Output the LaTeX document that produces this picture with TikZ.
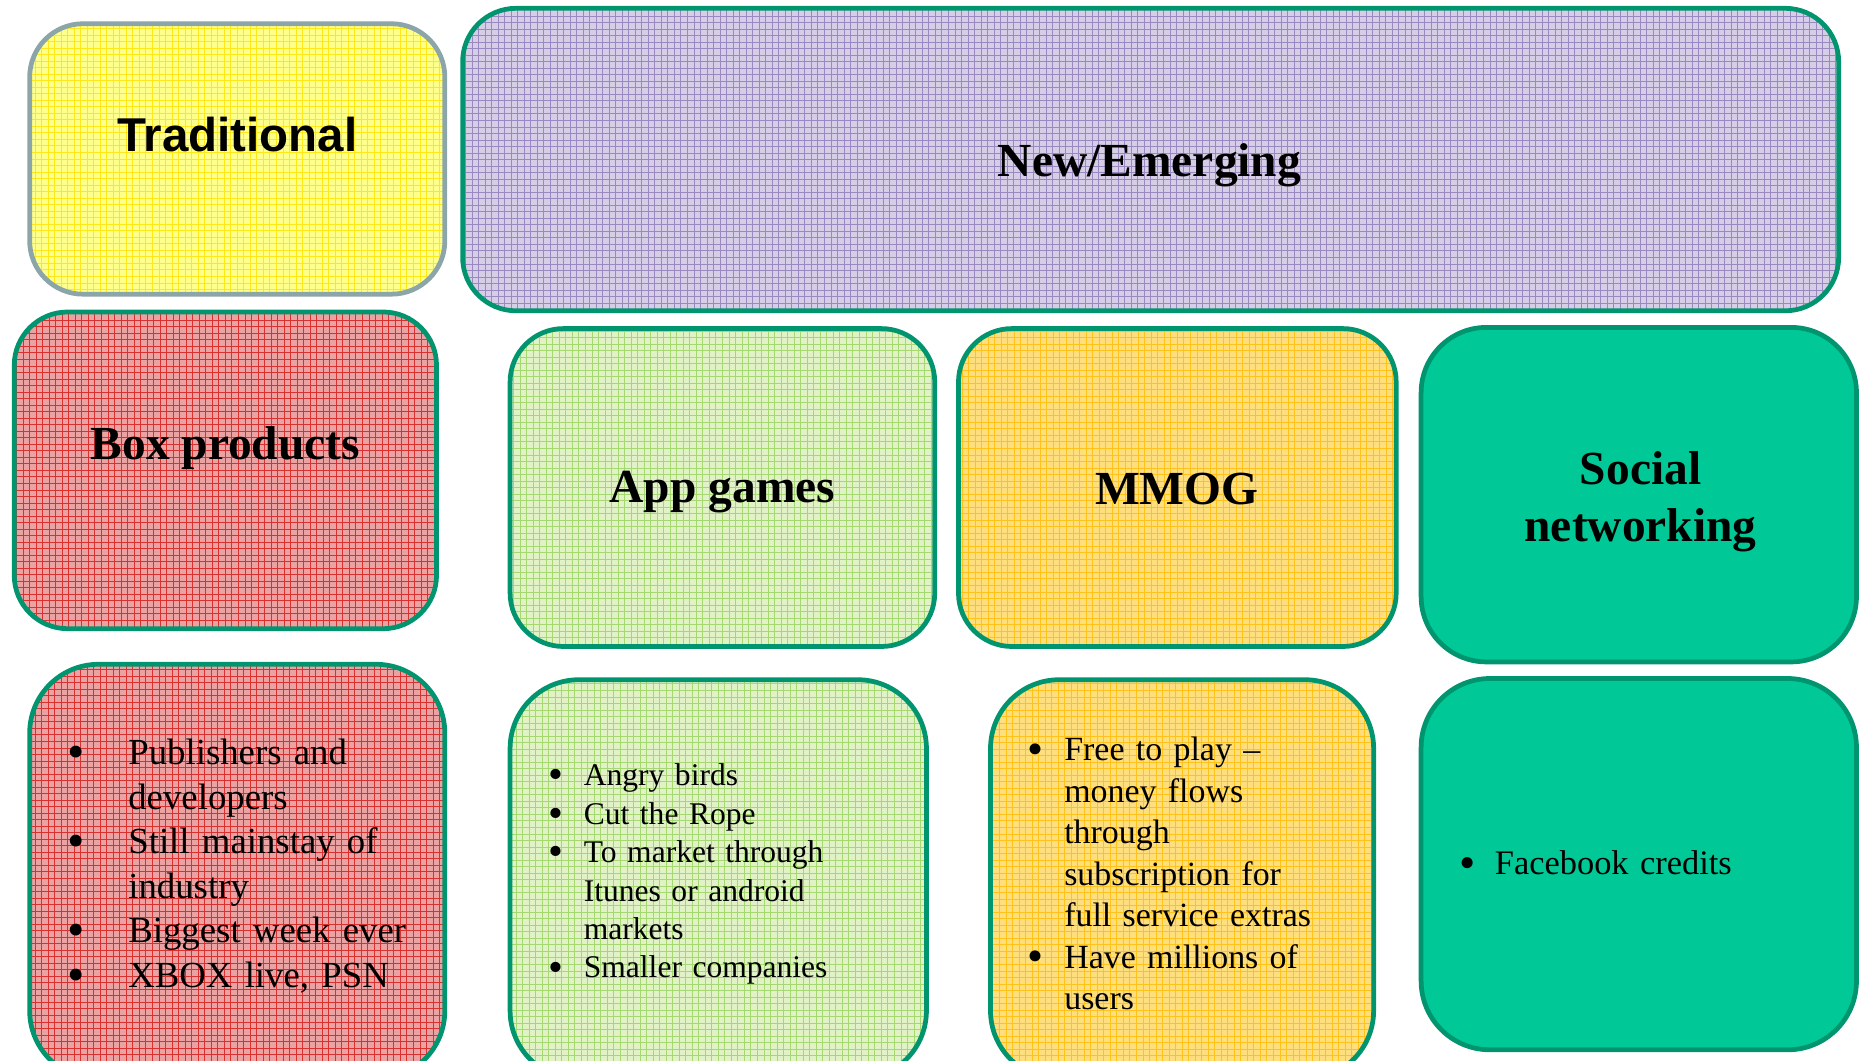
\documentclass[tikz,border=0pt]{standalone}
\usepackage{fontspec}
\setmainfont{Liberation Serif}
\newfontfamily\arialfont{Liberation Sans}

\definecolor{rimgreen}{HTML}{00956E}
\definecolor{rimgrey}{HTML}{8CA5A8}
\definecolor{socialgreen}{HTML}{00C896}
\definecolor{yellowbg}{HTML}{FFFF8C}
\definecolor{yellowln}{HTML}{FFE81A}
\definecolor{lilacbg}{HTML}{D6CEE6}
\definecolor{lilacln}{HTML}{9A88C0}
\definecolor{redbg}{HTML}{EBA2A2}
\definecolor{redln}{HTML}{D93030}
\definecolor{limebg}{HTML}{E0F2C6}
\definecolor{limeln}{HTML}{A6D872}
\definecolor{amberbg}{HTML}{FFDE7E}
\definecolor{amberln}{HTML}{FFC21A}

% bullet item with hanging indent
\newcommand{\bdot}{\raisebox{-0.1em}[0pt][0pt]{\scalebox{1.35}{\textbullet}}}
\newcommand{\bpt}[2][30pt]{\par\noindent\hangindent=#1\hangafter=1\makebox[#1][l]{\bdot}#2}

\tikzset{
  card/.style={draw=rimgreen, line width=4pt, rounded corners=45pt, inner sep=0pt},
  gridfill/.style 2 args={fill=#1, path picture={
      \draw[#2, line width=0.7pt] (path picture bounding box.south west)
        grid[step=5.5pt] (path picture bounding box.north east);}},
  title/.style={font=\fontsize{40pt}{48pt}\selectfont\bfseries, align=center, inner sep=0pt},
  bullets/.style={anchor=west, align=left, inner sep=0pt},
}

\begin{document}
\begin{tikzpicture}[x=1pt, y=-1pt]
  \clip (0,0) rectangle (1568,894);
  \useasboundingbox (0,0) rectangle (1568,894);

  % top row
  \node[card, draw=rimgrey, gridfill={yellowbg}{yellowln}, minimum width=350pt, minimum height=228pt] (trad) at (200,134) {};
  \node[card, gridfill={lilacbg}{lilacln}, minimum width=1160pt, minimum height=255pt] (emerg) at (970,134.5) {};

  % middle row
  \node[card, gridfill={redbg}{redln}, minimum width=356pt, minimum height=267pt] (boxp) at (190,396.5) {};
  \node[card, gridfill={limebg}{limeln}, minimum width=358pt, minimum height=268pt] (appg) at (609,411) {};
  \node[card, gridfill={amberbg}{amberln}, minimum width=369pt, minimum height=268pt] (mmog) at (992.5,411) {};
  \node[card, fill=socialgreen, rounded corners=55pt, minimum width=367pt, minimum height=282pt] (social) at (1381.5,417) {};

  % bottom row
  \node[card, rounded corners=58pt, gridfill={redbg}{redln}, minimum width=350pt, minimum height=350pt] (boxpl) at (200,735) {};
  \node[card, rounded corners=58pt, gridfill={limebg}{limeln}, minimum width=351pt, minimum height=337pt] (appl) at (605.5,741.5) {};
  \node[card, rounded corners=58pt, gridfill={amberbg}{amberln}, minimum width=323pt, minimum height=337pt] (mmogl) at (996.5,741.5) {};
  \node[card, rounded corners=58pt, fill=socialgreen, minimum width=367pt, minimum height=313pt] (sociall) at (1381.5,728.5) {};

  % titles
  \node[title, font=\fontsize{40pt}{48pt}\selectfont\arialfont\bfseries] (tradtxt) at (200,113) {Traditional};
  \node[title] (emergtxt) at (969,139) {New/Emerging};
  \node[title] (boxptxt) at (190,378) {Box products};
  \node[title] (appgtxt) at (609,415) {App games};
  \node[title] (mmogtxt) at (992,412) {MMOG};
  \node[title] (socialtxt) at (1383,423) {Social\\networking};

  % bullet lists
  \node[bullets, text width=300pt, font=\fontsize{31pt}{37.6pt}\selectfont] (boxplist) at (57,722) {%
    \bpt[51pt]{Publishers and\newline developers}
    \bpt[51pt]{Still mainstay of\newline industry}
    \bpt[51pt]{Biggest week ever}
    \bpt[51pt]{XBOX live, PSN}\par};
  \node[bullets, text width=300pt, font=\fontsize{26.6pt}{32.4pt}\selectfont] (appllist) at (462,730) {%
    \bpt{Angry birds}
    \bpt{Cut the Rope}
    \bpt{To market through\newline Itunes or android\newline markets}
    \bpt{Smaller companies}\par};
  \node[bullets, text width=280pt, font=\fontsize{28.6pt}{35pt}\selectfont] (mmogllist) at (866,729) {%
    \bpt[31pt]{Free to play --\newline money flows\newline through\newline subscription for\newline full service extras}
    \bpt[31pt]{Have millions of\newline users}\par};
  \node[bullets, text width=300pt, font=\fontsize{29pt}{35pt}\selectfont] (sociallist) at (1230,720) {%
    \bpt{Facebook credits}\par};
\end{tikzpicture}
\end{document}
